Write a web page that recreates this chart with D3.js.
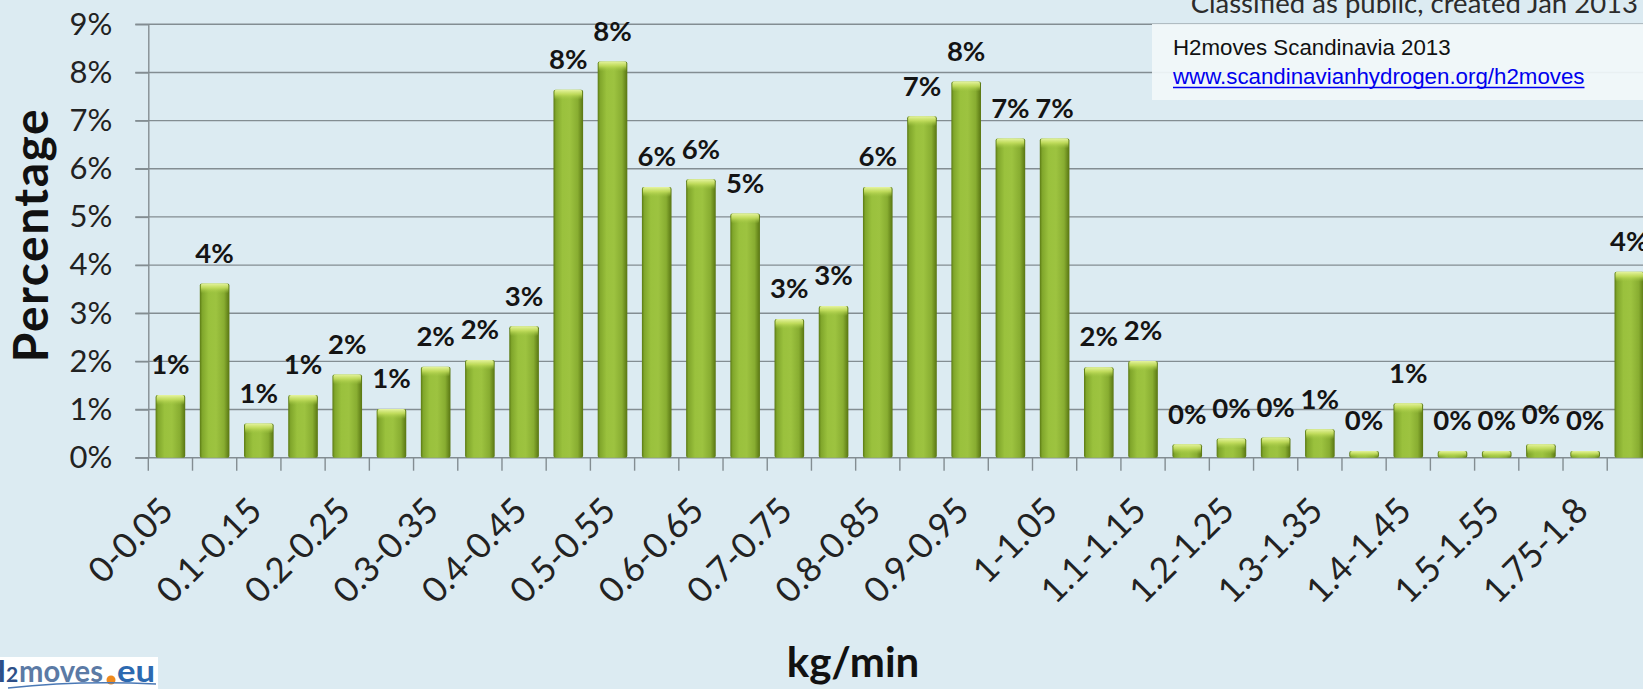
<!DOCTYPE html>
<html>
<head>
<meta charset="utf-8">
<script src="https://cdn.jsdelivr.net/npm/d3@7"></script>
<style>
  html, body { margin: 0; padding: 0; background: #dcebf2; }
  svg { display: block; }
</style>
</head>
<body>
<svg id="chart" width="1643" height="689"></svg>
<script>
// Refuelling rate distribution (share of fillings per kg/min bin)
const categories = [
  "0-0.05", "0.05-0.1", "0.1-0.15", "0.15-0.2", "0.2-0.25", "0.25-0.3",
  "0.3-0.35", "0.35-0.4", "0.4-0.45", "0.45-0.5", "0.5-0.55", "0.55-0.6",
  "0.6-0.65", "0.65-0.7", "0.7-0.75", "0.75-0.8", "0.8-0.85", "0.85-0.9",
  "0.9-0.95", "0.95-1", "1-1.05", "1.05-1.1", "1.1-1.15", "1.15-1.2",
  "1.2-1.25", "1.25-1.3", "1.3-1.35", "1.35-1.4", "1.4-1.45", "1.45-1.5",
  "1.5-1.55", "1.55-1.6", "1.75-1.8", "1.8-1.85"
];
const shares = [
  1.30, 3.62, 0.71, 1.30, 1.73, 1.01, 1.89, 2.03, 2.73, 7.64, 8.23, 5.62,
  5.78, 5.07, 2.88, 3.15, 5.62, 7.09, 7.81, 6.63, 6.63, 1.88, 2.01, 0.28,
  0.40, 0.42, 0.59, 0.14, 1.13, 0.14, 0.14, 0.28, 0.14, 3.86
];
const yTicks = [0, 1, 2, 3, 4, 5, 6, 7, 8, 9];
const yTickLabels = ["0%", "1%", "2%", "3%", "4%", "5%", "6%", "7%", "8%", "9%"];

const W = 1643, H = 689;
const FONT = "Lato, 'Open Sans', sans-serif";
const svg = d3.select("#chart");
const defs = svg.append("defs");

// bar body: darker rims, lighter centre
const body = defs.append("linearGradient").attr("id", "barBody")
  .attr("x1", 0).attr("y1", 0).attr("x2", 1).attr("y2", 0);
[[0, "#5a7913"], [0.08, "#80a62b"], [0.3, "#9ac13d"], [0.55, "#9dc340"],
 [0.82, "#88ad31"], [1, "#587512"]].forEach(([o, c]) =>
  body.append("stop").attr("offset", o).attr("stop-color", c));

// bevelled cap on top of each bar
const cap = defs.append("linearGradient").attr("id", "barCap")
  .attr("x1", 0).attr("y1", 0).attr("x2", 0).attr("y2", 1);
[[0, "#e6f4a0", 1], [0.45, "#c6e060", 0.85], [1, "#a3c744", 0]].forEach(([o, c, a]) =>
  cap.append("stop").attr("offset", o).attr("stop-color", c).attr("stop-opacity", a));

svg.append("rect").attr("width", W).attr("height", H).attr("fill", "#dcebf2");

// scales
const x0 = 148.3, step = 44.21;
const x = d3.scaleBand()
  .domain(categories)
  .range([x0, x0 + step * categories.length])
  .paddingInner(0.33)
  .paddingOuter(0.165);
const y = d3.scaleLinear().domain([0, 9]).range([457.7, 24.3]);

const gridColor = "#838d92";

// horizontal gridlines
svg.append("g").selectAll("line").data(yTicks).join("line")
  .attr("x1", x0 - 13).attr("x2", W)
  .attr("y1", d => y(d)).attr("y2", d => y(d))
  .attr("stroke", gridColor).attr("stroke-width", 1.4);

// y axis
const gy = svg.append("g").attr("transform", `translate(${x0},0)`)
  .call(d3.axisLeft(y).tickValues(yTicks)
    .tickFormat((d, i) => yTickLabels[i])
    .tickSize(13).tickSizeOuter(0).tickPadding(23));
gy.selectAll("path, line").attr("stroke", gridColor).attr("stroke-width", 1.4);
gy.selectAll("text")
  .attr("font-family", FONT).attr("font-size", 31).attr("fill", "#222");

// x axis: labels on every other bin, ticks on bin boundaries
const gx = svg.append("g").attr("transform", `translate(0,${y(0)})`)
  .call(d3.axisBottom(x).tickSize(0)
    .tickFormat((d, i) => i % 2 === 0 ? d : ""));
gx.select(".domain").remove();
gx.selectAll("text")
  .attr("y", null).attr("dy", null)
  .attr("transform", "translate(5,55) rotate(-45)")
  .attr("text-anchor", "end")
  .attr("font-family", FONT).attr("font-size", 35).attr("fill", "#222");

const gap = (x.step() - x.bandwidth()) / 2;
svg.append("g").selectAll("line")
  .data(categories.concat(["end"]))
  .join("line")
  .attr("x1", (c, i) => i < categories.length ? x(c) - gap : x(categories[i - 1]) + x.bandwidth() + gap)
  .attr("x2", (c, i) => i < categories.length ? x(c) - gap : x(categories[i - 1]) + x.bandwidth() + gap)
  .attr("y1", y(0)).attr("y2", y(0) + 13)
  .attr("stroke", gridColor).attr("stroke-width", 1.4);

// bars
const bars = svg.append("g");
bars.selectAll("rect.body").data(categories).join("rect")
  .attr("class", "body")
  .attr("x", c => x(c)).attr("width", x.bandwidth())
  .attr("y", (c, i) => y(shares[i]))
  .attr("height", (c, i) => y(0) - y(shares[i]))
  .attr("rx", 2)
  .attr("fill", "url(#barBody)");
bars.selectAll("rect.cap").data(categories).join("rect")
  .attr("class", "cap")
  .attr("x", c => x(c) + 1).attr("width", x.bandwidth() - 2)
  .attr("y", (c, i) => y(shares[i]))
  .attr("height", (c, i) => Math.min(10, y(0) - y(shares[i])))
  .attr("rx", 2)
  .attr("fill", "url(#barCap)");

// value labels
svg.append("g").selectAll("text").data(categories).join("text")
  .attr("x", c => x(c) + x.bandwidth() / 2)
  .attr("y", (c, i) => y(shares[i]) - 20.7)
  .attr("text-anchor", "middle")
  .attr("font-family", FONT).attr("font-weight", 700).attr("font-size", 27.5)
  .attr("fill", "#141414")
  .text((c, i) => Math.round(shares[i]) + "%");

// axis titles
svg.append("text")
  .attr("transform", "translate(48,235) rotate(-90)")
  .attr("text-anchor", "middle")
  .attr("font-family", FONT).attr("font-weight", 700).attr("font-size", 48)
  .attr("letter-spacing", 1.5)
  .attr("fill", "#111")
  .text("Percentage");

svg.append("text")
  .attr("x", 853).attr("y", 677)
  .attr("text-anchor", "middle")
  .attr("font-family", FONT).attr("font-weight", 700).attr("font-size", 42)
  .attr("fill", "#111")
  .text("kg/min");

// classification note along the top edge
svg.append("text")
  .attr("x", 1638).attr("y", 13)
  .attr("text-anchor", "end")
  .attr("font-family", FONT).attr("font-size", 27.5)
  .attr("fill", "#2c2c2c")
  .text("Classified as public, created Jan 2013");

// source box
const src = svg.append("g");
src.append("rect").attr("x", 1152).attr("y", 24).attr("width", 500).attr("height", 76)
  .attr("fill", "#f1f7fa").attr("opacity", 0.93);
src.append("text")
  .attr("x", 1173).attr("y", 55)
  .attr("font-family", "'Liberation Sans', Arial, sans-serif").attr("font-size", 22.3)
  .attr("fill", "#111")
  .text("H2moves Scandinavia 2013");
const link = src.append("text")
  .attr("x", 1173).attr("y", 84)
  .attr("font-family", "'Liberation Sans', Arial, sans-serif").attr("font-size", 22.3)
  .attr("fill", "#0000ee")
  .text("www.scandinavianhydrogen.org/h2moves");
const linkLen = link.node().getComputedTextLength();
src.append("line")
  .attr("x1", 1173).attr("x2", 1173 + linkLen)
  .attr("y1", 87.5).attr("y2", 87.5)
  .attr("stroke", "#0000ee").attr("stroke-width", 1.5);

// project logo, bottom-left corner
const logo = svg.append("g");
logo.append("rect").attr("x", 0).attr("y", 657).attr("width", 158).attr("height", 32).attr("fill", "#ffffff");
logo.append("text").attr("x", -17).attr("y", 682)
  .attr("font-family", FONT).attr("font-weight", 700).attr("font-size", 30)
  .attr("fill", "#2d4f88").text("H");
logo.append("text").attr("x", 6).attr("y", 682)
  .attr("font-family", FONT).attr("font-weight", 700).attr("font-size", 21)
  .attr("fill", "#2d4f88").text("2");
logo.append("text").attr("x", 19).attr("y", 682)
  .attr("font-family", FONT).attr("font-weight", 700).attr("font-size", 31)
  .attr("textLength", 84).attr("lengthAdjust", "spacingAndGlyphs")
  .attr("fill", "#5b7aa5").text("moves");
logo.append("circle").attr("cx", 111).attr("cy", 680).attr("r", 4.5).attr("fill", "#ef8a1d");
logo.append("text").attr("x", 117).attr("y", 682)
  .attr("font-family", FONT).attr("font-weight", 700).attr("font-size", 31)
  .attr("textLength", 38).attr("lengthAdjust", "spacingAndGlyphs")
  .attr("fill", "#2c69b0").text("eu");
logo.append("path")
  .attr("d", "M8,688 Q80,680 156,684")
  .attr("fill", "none").attr("stroke", "#4a78b5").attr("stroke-width", 1.5);
</script>
</body>
</html>
